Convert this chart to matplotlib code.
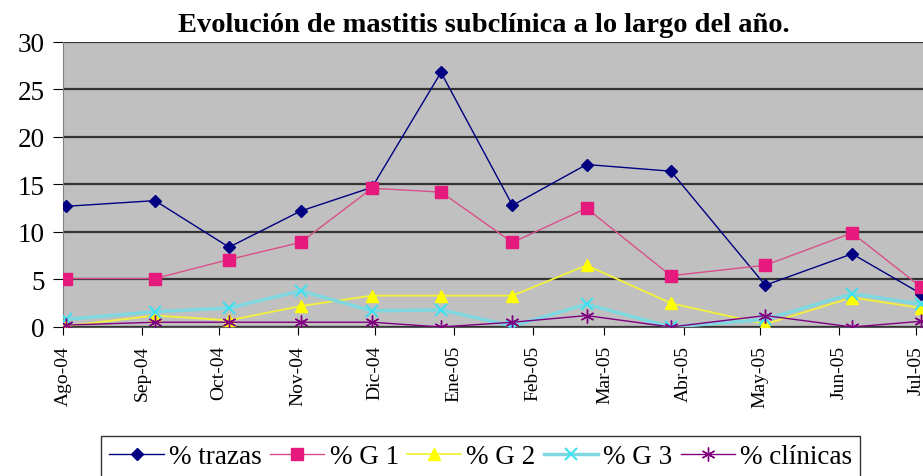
import numpy as np
import pandas as pd
import matplotlib
matplotlib.use("Agg")
import matplotlib.pyplot as plt

# sampling dates (irregular)
dates = pd.to_datetime(["2004-08-02", "2004-09-06", "2004-10-05", "2004-11-02",
                        "2004-11-30", "2004-12-27", "2005-01-24", "2005-02-22",
                        "2005-03-27", "2005-05-03", "2005-06-06", "2005-07-03"])

trazas = [12.7, 13.3, 8.4, 12.2, 14.7, 26.8, 12.8, 17.1, 16.4, 4.4, 7.7, 3.5]
g1 = [5.1, 5.1, 7.1, 8.9, 14.6, 14.2, 8.9, 12.5, 5.4, 6.5, 9.9, 4.2]
g2 = [0.1, 1.2, 0.7, 2.2, 3.3, 3.3, 3.3, 6.5, 2.5, 0.3, 3.1, 2.0]
g3 = [0.8, 1.6, 2.0, 3.8, 1.7, 1.8, 0.1, 2.4, 0.0, 0.8, 3.5, 2.4]
clinicas = [0.2, 0.5, 0.5, 0.5, 0.5, 0.0, 0.5, 1.2, 0.0, 1.2, 0.0, 0.6]

month_ticks = pd.date_range("2004-08-01", "2005-07-01", freq="MS")
month_labels = ["Ago-04", "Sep-04", "Oct-04", "Nov-04", "Dic-04", "Ene-05",
                "Feb-05", "Mar-05", "Abr-05", "May-05", "Jun-05", "Jul-05"]

plt.rcParams['font.family'] = ['Liberation Serif', 'DejaVu Serif']

fig = plt.figure(figsize=(9.23, 4.77), dpi=100)
ax = fig.add_axes([0.0683, 0.3124, 0.9317, 0.5975])
ax.set_facecolor("#c0c0c0")

ax.plot(dates, trazas, color="#000080", lw=1.0, marker="D", ms=6,
        label="% trazas", zorder=3)
ax.plot(dates, g1, color="#d8508a", lw=1.0, marker="s", ms=8,
        mfc="#e6197d", mec="#e6197d", label="% G 1", zorder=3)
ax.plot(dates, g2, color="#f2f23a", lw=1.3, marker="^", ms=8,
        mfc="#ffff00", mec="#ffff00", label="% G 2", zorder=3)
ax.plot(dates, g3, color="#7fd8e0", lw=2.5, marker="x", ms=8, mew=1.5,
        mec="#40e0f0", label="% G 3", zorder=3)
ax.plot(dates, clinicas, color="#800080", lw=1.0, marker=(6, 2, 0), ms=10,
        mew=1.0, label="% clínicas", zorder=3)

ax.set_ylim(0, 30)
ax.set_yticks(range(0, 31, 5))
ax.set_xlim(pd.Timestamp("2004-08-01"), pd.Timestamp("2005-07-03 18:00"))
ax.set_xticks(month_ticks)
ax.set_xticklabels(month_labels, rotation=90, fontsize=14)
ax.tick_params(axis="y", labelsize=19.5, length=7, pad=6)
ax.tick_params(axis="x", length=6, pad=7)

ax.grid(axis="y", color="#333333", lw=1.6)
ax.set_axisbelow(True)
for s in ["top", "right"]:
    ax.spines[s].set_visible(False)
ax.spines["left"].set_color("#808080")
ax.spines["bottom"].set_color("#555555")

fig.text(0.524, 0.933, "Evolución de mastitis subclínica a lo largo del año.",
         ha="center", va="baseline", fontsize=20.5, fontweight="bold")

fig.legend(loc="upper center", bbox_to_anchor=(0.521, 0.084), ncol=5,
           fontsize=19.5, frameon=True, fancybox=False, edgecolor="black",
           handlelength=2.0, handletextpad=0.2, columnspacing=0.3,
           borderpad=0.3, borderaxespad=0)

fig.savefig("out.png", dpi=100)
